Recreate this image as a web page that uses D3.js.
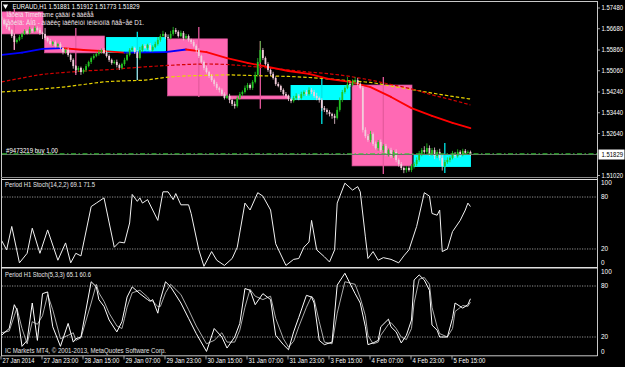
<!DOCTYPE html>
<html>
<head>
<meta charset="utf-8">
<script src="https://cdn.jsdelivr.net/npm/d3@7"></script>
<style>
  body { margin: 0; background: #000; overflow: hidden; }
  svg { display: block; }
  text { font-family: "Liberation Sans", Arial, sans-serif; font-size: 6.6px; fill: #fff; }
</style>
</head>
<body>
<svg id="chart" width="625" height="367"></svg>
<script>
// prices are stored as pips above 1.5000 (e.g. 733 -> 1.5733)
// H1 bars, bar 0 = 27 Jan 07:00, weekend skipped
const dayStart = [0, 17, 41, 65, 89, 113, 137, 161];
const dayNoon  = [5, 29, 53, 77, 101, 125, 149, 173];
const dayOpen  = [733, 640, 575, 629, 409, 393, 451, 135];
const dayHigh  = [745, 671, 656, 675, 621, 482, 482, 227];
const dayLow   = [586, 490, 470, 405, 359, 301, 108, 112];
const dayClose = [648, 575, 636, 409, 397, 451, 139, 183];

const firstOpen = 715;
const closes = [
  702,686,675,663,640,617,625,636,648,659,652,667,659,671,663,652,648,
  632,621,609,617,602,609,594,578,586,567,548,524,509,517,501,509,524,540,555,563,571,578,586,575,
  563,548,536,540,528,517,532,548,567,586,594,578,555,586,602,594,605,586,598,609,625,640,648,636,
  632,648,663,656,640,652,632,640,625,617,602,586,563,540,517,501,486,470,455,440,432,416,401,409,
  393,378,370,401,416,424,440,451,440,463,490,540,586,555,532,509,494,478,455,447,432,416,409,397,
  389,401,409,401,416,424,416,432,424,409,401,393,362,355,347,339,332,324,355,393,424,440,455,451,
  463,470,455,440,278,254,239,262,224,208,231,200,216,185,200,177,193,162,146,131,123,131,123,139,
  146,162,185,200,193,208,185,200,177,193,170,139,154,162,170,185,177,193,181,197,189,193,183
];
const wickHi = [
  8,6,5,6,4,10,6,8,5,7,6,9,5,8,6,10,5,
  23,5,8,4,6,5,7,5,6,8,5,6,4,7,5,6,8,5,6,7,5,9,6,8,
  8,6,5,7,9,6,5,8,10,7,6,5,8,12,6,7,5,8,6,9,10,8,12,6,
  10,12,12,8,6,9,7,8,6,5,8,6,7,5,6,8,5,7,6,8,5,6,7,5,
  8,6,10,7,8,6,9,8,6,7,12,15,35,8,6,7,5,8,6,7,5,6,8,5,
  6,8,10,7,9,6,8,10,7,8,12,6,7,8,6,7,5,8,12,10,8,6,27,10,
  10,12,8,6,7,10,8,12,6,9,8,10,7,8,6,9,7,10,6,8,5,7,6,8,
  8,10,12,8,15,18,10,8,10,8,12,10,8,10,6,12,8,10,6,8,7,6,5
];
const wickLo = [
  5,6,8,5,7,30,6,5,8,4,6,5,7,5,6,8,20,
  8,6,5,7,6,8,5,9,6,7,8,10,12,8,11,6,7,5,8,6,5,7,6,5,
  6,8,7,5,9,8,6,7,5,6,8,7,85,6,8,5,7,6,8,5,6,7,5,8,
  6,5,7,8,6,5,9,6,7,8,6,10,8,7,9,6,8,7,9,8,10,7,6,4,
  12,8,10,6,7,8,6,9,7,8,6,7,5,8,6,7,8,6,7,5,8,6,7,8,
  8,6,7,9,6,8,7,6,8,7,9,10,12,8,10,9,11,23,6,7,8,6,5,7,
  6,8,7,6,10,8,7,9,8,6,10,8,9,7,10,8,7,9,10,8,12,10,6,8,
  10,8,7,9,6,8,7,6,12,8,10,18,8,7,9,6,7,6,8,5,6,7,6
];

// moving averages, read every 8 bars
const maBars  = [0,8,16,24,32,40,48,56,64,72,80,88,96,104,112,120,128,136,144,152,160,168,176,183];
const maFast  = [567,576,590,593,586,582,576,577,578,588,578,555,536,521,505,494,474,463,443,405,362,332,305,285];
const maRed   = [463,478,492,499,505,509,515,521,526,530,532,530,524,517,509,501,494,484,470,453,436,413,393,374];
const maGold  = [424,430,436,443,453,463,467,470,480,486,488,490,488,486,484,480,474,467,461,447,434,420,407,397];

const bidPrice = 1.51829;
const orderPrice = 1.51855;

// Stoch(14,2,2)
const st1Bars = [0,2,4,7,10,12,15,18,22,25,27,29,31,35,37,40,44,46,48,50,51,53,54,55,57,61,63,65,67,68,70,73,74,77,79,82,84,87,90,92,95,97,100,102,105,107,111,114,116,118,120,121,123,126,128,130,131,134,137,139,140,142,143,145,147,149,152,155,157,159,162,165,167,168,170,171,172,174,176,179,181,182,183];
const st1Main = [30,19,46,4,15,44,15,42,7,27,4,15,12,69,73,79,22,28,27,50,83,75,79,73,77,53,86,86,77,84,71,71,61,19,0,17,7,1,9,22,73,65,85,81,65,26,1,8,9,22,28,53,19,11,5,19,73,96,88,92,86,34,9,17,7,10,8,4,12,19,46,85,81,61,59,65,17,20,40,53,65,73,69];

// Stoch(5,3,3)
const st2Bars = [0,3,5,6,8,10,12,14,16,18,20,23,26,28,29,31,35,37,38,40,42,45,47,48,49,51,54,57,58,59,61,62,64,66,70,73,76,80,83,86,88,91,93,95,97,99,102,105,107,110,112,114,116,119,121,122,124,126,129,131,134,138,140,142,143,145,147,148,151,152,154,156,158,160,161,163,165,167,168,170,171,174,176,177,180,182,183];
const st2Main = [22,30,58,52,9,16,60,16,71,73,32,9,36,14,18,20,85,79,64,56,40,26,38,52,67,79,71,64,62,64,48,64,85,79,60,42,24,3,30,20,7,20,36,77,75,58,71,64,22,11,5,26,43,69,67,60,16,11,14,81,95,71,60,32,11,13,16,32,41,32,26,13,22,40,87,93,87,75,34,28,20,20,42,60,54,58,65];
const st2Signal = [25,27,45,54,30,12,38,35,45,70,52,18,22,25,16,19,60,82,72,62,48,33,30,42,55,72,75,67,63,62,56,56,72,82,70,52,33,12,16,25,14,14,28,55,76,68,64,68,42,18,8,15,32,55,68,64,38,14,12,48,85,82,66,45,22,12,14,22,35,37,30,20,17,30,60,88,90,82,55,32,24,20,30,50,57,56,61];

const priceTicks = [1.5748, 1.5668, 1.5586, 1.5506, 1.5424, 1.5344, 1.5264, 1.5102];
const stochLevels = [100, 80, 20, 0];
const timeTickBars = [0,16,32,48,64,80,96,112,128,144,160,176];
const timeTickLabels = ["27 Jan 2014","27 Jan 23:00","28 Jan 15:00","29 Jan 07:00","29 Jan 23:00","30 Jan 15:00","31 Jan 07:00","31 Jan 23:00","3 Feb 15:00","4 Feb 07:00","4 Feb 23:00","5 Feb 15:00"];

const titleText = "EURAUD,H1  1.51881 1.51912 1.51773 1.51829";
const infoLine1 = "Ïåðèîä Timeframe çàäàí è äàëåå";
const infoLine2 = "Ïåðèîä: ÄÍß - àíàëèç ìàêñèìóì ìèíèìóìîâ ñâå÷åé D1.";
const orderText = "#9473219 buy 1.00";
const st1Text = "Period H1 Stoch(14,2,2) 69.1 71.5";
const st2Text = "Period H1 Stoch(5,3,3) 65.1 60.6";
const copyText = "IC Markets MT4, © 2001-2013, MetaQuotes Software Corp.";

// ---------------------------------------------------------------
const P = v => 1.5 + v / 10000;
const nBars = closes.length;
const axisX = 597.5;

const svg = d3.select("#chart");
svg.append("rect").attr("width", 625).attr("height", 367).attr("fill", "#000");

const x = d3.scaleLinear().domain([0, 183]).range([1.5, 1.5 + 183 * 2.5625]);
const y = d3.scaleLinear().domain([1.5102, 1.5748]).range([175.5, 8]);
const ys1 = d3.scaleLinear().domain([0, 100]).range([266.3, 179.7]);
const ys2 = d3.scaleLinear().domain([0, 100]).range([354, 269]);

svg.append("clipPath").attr("id", "mainClip")
  .append("rect").attr("x", 2).attr("y", 2).attr("width", axisX - 2).attr("height", 175);

const main = svg.append("g").attr("clip-path", "url(#mainClip)");

// day boxes
const dayIdx = d3.range(dayStart.length);
const dayEnd = dayIdx.map(d => d < dayStart.length - 1 ? dayStart[d + 1] - 1 : nBars - 1);
const bull = d => dayClose[d] > dayOpen[d];

main.selectAll("rect.day").data(dayIdx).join("rect")
  .attr("class", "day")
  .attr("x", d => x(dayStart[d]) - 0.5)
  .attr("width", d => x(dayEnd[d]) - x(dayStart[d]) + 1)
  .attr("y", d => y(P(Math.max(dayOpen[d], dayClose[d]))))
  .attr("height", d => Math.max(2, y(P(Math.min(dayOpen[d], dayClose[d]))) - y(P(Math.max(dayOpen[d], dayClose[d])))))
  .attr("fill", d => bull(d) ? "#00ffff" : "#ff69b4")
  .attr("stroke", d => bull(d) ? "none" : "#d85096")
  .attr("stroke-width", 0.7);

main.selectAll("line.dayWick").data(dayIdx).join("line")
  .attr("class", "dayWick")
  .attr("x1", d => x(dayNoon[d])).attr("x2", d => x(dayNoon[d]))
  .attr("y1", d => y(P(dayHigh[d]))).attr("y2", d => y(P(dayLow[d])))
  .attr("stroke", d => bull(d) ? "#00e8e8" : "#e65a9e")
  .attr("stroke-width", 1.3);

// moving averages
const maPts = arr => maBars.map((b, i) => [x(b), y(P(arr[i]))]);
const dashLine = d3.line().curve(d3.curveMonotoneX);

main.append("path").attr("d", dashLine(maPts(maGold)))
  .attr("fill", "none").attr("stroke", "#e8d400").attr("stroke-width", 1.2)
  .attr("stroke-dasharray", "3.5,2");
main.append("path").attr("d", dashLine(maPts(maRed)))
  .attr("fill", "none").attr("stroke", "#d40000").attr("stroke-width", 1.2)
  .attr("stroke-dasharray", "3.5,2");

const fastPts = maPts(maFast);
main.selectAll("line.maFast").data(d3.range(fastPts.length - 1)).join("line")
  .attr("class", "maFast")
  .attr("x1", i => fastPts[i][0]).attr("y1", i => fastPts[i][1])
  .attr("x2", i => fastPts[i + 1][0]).attr("y2", i => fastPts[i + 1][1])
  .attr("stroke", i => maFast[i + 1] >= maFast[i] ? "#0000ff" : "#ff0000")
  .attr("stroke-width", 1.8).attr("stroke-linecap", "round");

// candles
const candles = closes.map((c, i) => {
  const o = i === 0 ? firstOpen : closes[i - 1];
  return { i, o, c, h: Math.max(o, c) + wickHi[i], l: Math.min(o, c) - wickLo[i] };
});
const cColor = d => d.c >= d.o ? "#22c522" : "#f2cddb";

const cg = main.append("g");
cg.selectAll("line.wick").data(candles).join("line")
  .attr("class", "wick")
  .attr("x1", d => x(d.i)).attr("x2", d => x(d.i))
  .attr("y1", d => y(P(d.h))).attr("y2", d => y(P(d.l)))
  .attr("stroke", cColor).attr("stroke-width", 0.8);
cg.selectAll("rect.body").data(candles).join("rect")
  .attr("class", "body")
  .attr("x", d => x(d.i) - 0.9).attr("width", 1.8)
  .attr("y", d => y(P(Math.max(d.o, d.c))))
  .attr("height", d => Math.max(0.8, Math.abs(y(P(d.o)) - y(P(d.c)))))
  .attr("fill", cColor);

// bid line and order line
svg.append("line").attr("x1", 2).attr("x2", axisX).attr("y1", y(bidPrice)).attr("y2", y(bidPrice))
  .attr("stroke", "#6e6e6e").attr("stroke-width", 1);
svg.append("line").attr("x1", 2).attr("x2", axisX).attr("y1", y(orderPrice)).attr("y2", y(orderPrice))
  .attr("stroke", "#32cd32").attr("stroke-width", 1).attr("stroke-dasharray", "5,2.5,1.5,2.5");

// stochastic panels
function levelLine(scale, v) {
  svg.append("line").attr("x1", 2).attr("x2", axisX).attr("y1", scale(v)).attr("y2", scale(v))
    .attr("stroke", "#b8b8b8").attr("stroke-width", 0.8).attr("stroke-dasharray", "1.2,1.3");
}
[80, 20].forEach(v => { levelLine(ys1, v); levelLine(ys2, v); });

const stLine = (bars, vals, scale) => d3.line()(bars.map((b, i) => [x(b), scale(vals[i])]));
svg.append("path").attr("d", stLine(st2Bars, st2Signal, ys2))
  .attr("fill", "none").attr("stroke", "#bdbdbd").attr("stroke-width", 0.9);
svg.append("path").attr("d", stLine(st2Bars, st2Main, ys2))
  .attr("fill", "none").attr("stroke", "#ffffff").attr("stroke-width", 1);
svg.append("path").attr("d", stLine(st1Bars, st1Main, ys1))
  .attr("fill", "none").attr("stroke", "#f2f2f2").attr("stroke-width", 1);

// frames
const frame = (x1, y1, x2, y2, c, w) => svg.append("line")
  .attr("x1", x1).attr("y1", y1).attr("x2", x2).attr("y2", y2)
  .attr("stroke", c).attr("stroke-width", w);
frame(1, 1.5, axisX, 1.5, "#c8c8c8", 1);
frame(1.5, 1, 1.5, 356, "#c8c8c8", 1);
frame(axisX, 1, axisX, 356, "#c8c8c8", 1);
frame(1, 177.5, axisX, 177.5, "#8c8c8c", 1);
frame(1, 179.5, axisX, 179.5, "#e0e0e0", 1);
frame(1, 267.8, axisX, 267.8, "#e0e0e0", 1.6);
frame(1, 355.8, axisX, 355.8, "#c8c8c8", 1);

// price axis
const axisG = svg.append("g");
priceTicks.forEach(p => {
  axisG.append("line").attr("x1", axisX).attr("x2", axisX + 2.5).attr("y1", y(p)).attr("y2", y(p))
    .attr("stroke", "#c8c8c8").attr("stroke-width", 0.8);
  axisG.append("text").attr("x", 601.5).attr("y", y(p) + 2.4)
    .attr("textLength", 21.5).attr("lengthAdjust", "spacingAndGlyphs").text(d3.format(".5f")(p));
});
axisG.append("rect").attr("x", 598.5).attr("y", y(bidPrice) - 5).attr("width", 26).attr("height", 10)
  .attr("fill", "#fff");
axisG.append("text").attr("x", 601.5).attr("y", y(bidPrice) + 2.4).style("fill", "#000")
  .attr("textLength", 21.5).attr("lengthAdjust", "spacingAndGlyphs").text(d3.format(".5f")(bidPrice));

function stochAxis(scale, top, bottom) {
  stochLevels.forEach(v => {
    const yy = Math.min(bottom - 4, Math.max(top + 3.5, scale(v)));
    axisG.append("text").attr("x", 601).attr("y", yy + 2.4)
      .attr("textLength", String(v).length * 3.6).attr("lengthAdjust", "spacingAndGlyphs").text(v);
  });
}
stochAxis(ys1, 179.5, 267);
stochAxis(ys2, 268.5, 355.5);

// time axis
timeTickBars.forEach((b, i) => {
  axisG.append("line").attr("x1", x(b) - 0.5).attr("x2", x(b) - 0.5).attr("y1", 356).attr("y2", 359.5)
    .attr("stroke", "#c8c8c8").attr("stroke-width", 0.8);
  axisG.append("text").attr("x", x(b) + 1).attr("y", 363.3)
    .attr("textLength", timeTickLabels[i].length * 2.9).attr("lengthAdjust", "spacingAndGlyphs")
    .text(timeTickLabels[i]);
});

// texts
const sym = d3.symbol().type(d3.symbolTriangle).size(12);
svg.append("path").attr("d", sym()).attr("transform", "translate(5.5,6) rotate(180)").attr("fill", "#fff");
const addText = (t, tx, ty, w, col) => svg.append("text").attr("x", tx).attr("y", ty)
  .attr("textLength", w).attr("lengthAdjust", "spacingAndGlyphs").style("fill", col).text(t);
addText(titleText, 12.5, 8.6, 127, "#ffffff");
addText(infoLine1, 6.5, 16.6, 87, "#f0e6ea");
addText(infoLine2, 5, 24.6, 139, "#f0e6ea");
addText(orderText, 6, 153, 52, "#ffffff");
addText(st1Text, 5, 187.3, 90, "#e8e8e8");
addText(st2Text, 5, 276.8, 86, "#e8e8e8");
addText(copyText, 5, 352.8, 161, "#e0e0e0");
</script>
</body>
</html>
